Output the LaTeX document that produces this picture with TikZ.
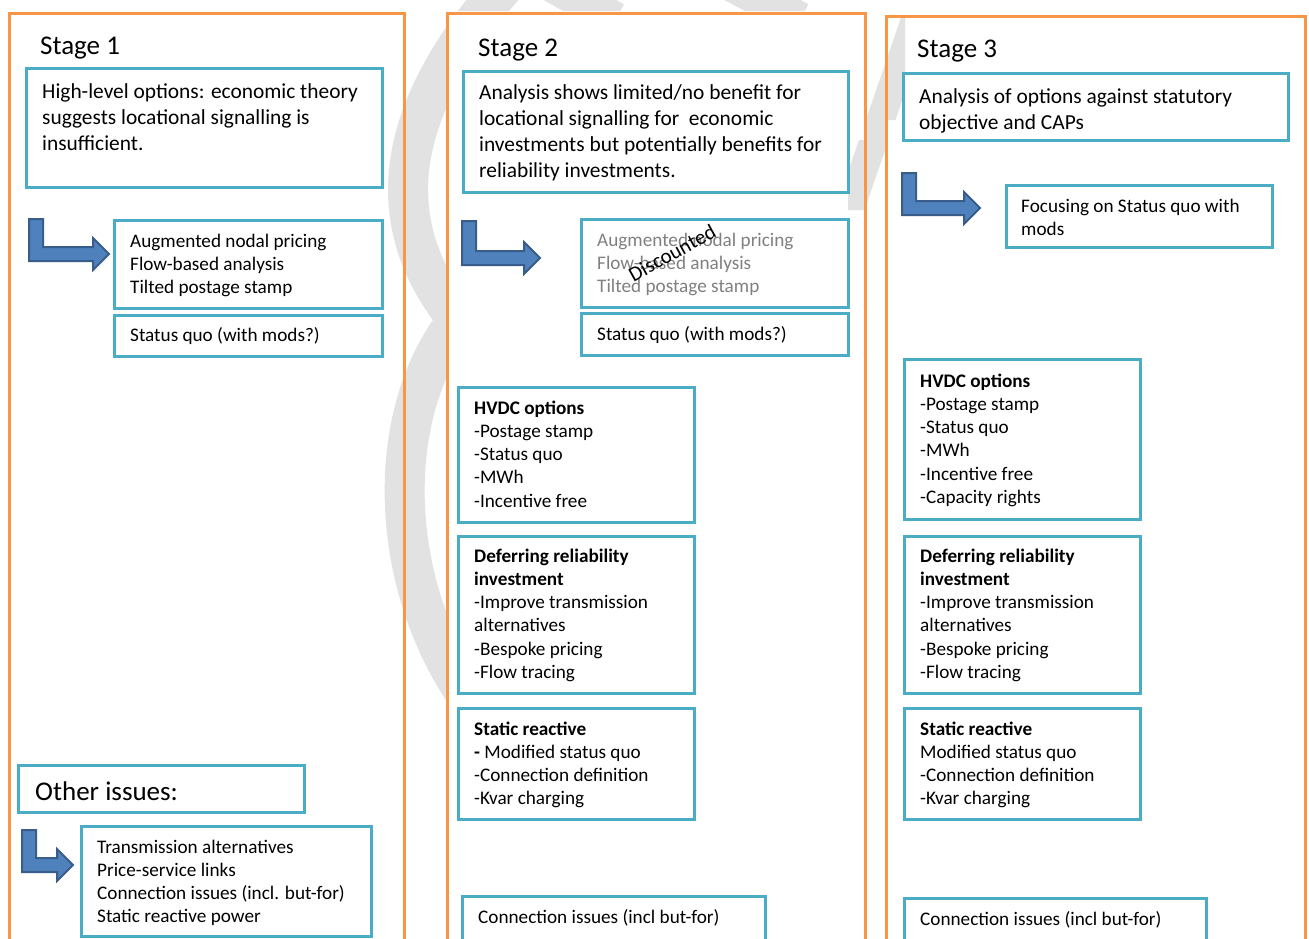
\documentclass[tikz,border=0pt]{standalone}
\usepackage{fontspec}
\setmainfont{Carlito}
\definecolor{teal1}{HTML}{4BACC6}
\definecolor{orng}{HTML}{F79646}
\definecolor{arrfill}{HTML}{4F81BD}
\definecolor{arrline}{HTML}{385D8A}
\definecolor{wm}{HTML}{E2E2E2}
\definecolor{greytxt}{HTML}{808080}
\tikzset{
 colbox/.style={draw=orng, line width=3pt, inner sep=0pt, anchor=north west},
 tbox/.style={draw=teal1, fill=white, line width=3pt, inner sep=0pt, anchor=north west},
 bigtxt/.style={anchor=base west, inner sep=0pt, align=left, font=\fontsize{21.4}{26}\selectfont},
 txt/.style={anchor=base west, inner sep=0pt, align=left, font=\fontsize{19.2}{23.3}\selectfont},
 ttl/.style={anchor=base west, inner sep=0pt, font=\fontsize{27}{32}\selectfont},
 barrow/.style={fill=arrfill, draw=arrline, line width=2pt, line join=miter},
 wmline/.style={draw=wm, line width=36pt},
}
\newcommand{\boxat}[5]{\node[tbox, minimum width={#4-#2}, minimum height={#5-#3}] (#1) at (#2,#3) {};}
\newcommand{\colat}[5]{\node[colbox, minimum width={#4-#2}, minimum height={#5-#3}] (#1) at (#2,#3) {};}
\newcommand{\bendarrow}[5]{%
 \draw[barrow] (#2,#3) -- ({#2+14},#3) -- ({#2+14},{#5-14}) -- ({#4-16},{#5-14}) -- ({#4-16},{#5-23}) -- (#4,{#5-7}) -- ({#4-16},{#5+9}) -- ({#4-16},#5) -- (#2,#5) -- cycle;
 \coordinate (#1) at (#4,{#5-7});}
\begin{document}
\begin{tikzpicture}[x=1pt,y=-1pt]
\useasboundingbox[fill=white] (0,0) rectangle (1309,938);
% watermark
\begin{scope}
 \clip (0,0) rectangle (446,938) (446,0) rectangle (1309,11) (864,0) rectangle (886,938) (848,140) rectangle (864,210) (886,15) rectangle (905,120);
 \draw[wmline, line width=40pt] (505,-15) .. controls (385,120) and (385,230) .. (458,320) .. controls (385,410) and (385,580) .. (470,700);
 \draw[wmline] (545,-20) -- (615,20);
 \draw[wmline] (725,-20) -- (800,20);
 \draw[wmline, line width=28pt] (915,20) -- (848,215);
\end{scope}
% columns
\colat{col1}{8}{12}{403}{960}
\colat{col2}{446}{12}{864}{960}
\colat{col3}{885}{15}{1304}{960}
% stage 1
\node[ttl] (s1) at (40,54) {Stage 1};
\boxat{a1}{25}{67}{381}{186}
\node[bigtxt] (a1t) at (42,150) {High-level options: economic theory\\suggests locational signalling is\\insufficient.};
\bendarrow{ar1}{29}{219}{109}{261}
\boxat{b1}{113}{219}{381}{307}
\node[txt] (b1t) at (130,293.6) {Augmented nodal pricing\\Flow-based analysis\\Tilted postage stamp};
\boxat{c1}{113}{314}{381}{355}
\node[txt] (c1t) at (130,341) {Status quo (with mods?)};
\boxat{o1}{17}{764}{303}{811}
\node[ttl] (o1t) at (35,800) {Other issues:};
\bendarrow{ar4}{22}{830}{73}{872}
\boxat{o2}{80}{825}{370}{935}
\node[txt] (o2t) at (97,922.9) {Transmission alternatives\\Price-service links\\Connection issues (incl. but-for)\\Static reactive power};
% stage 2
\node[ttl] (s2) at (478,56) {Stage 2};
\boxat{a2}{462}{70}{847}{191}
\node[bigtxt] (a2t) at (479,177) {Analysis shows limited/no benefit for\\locational signalling for\ \ economic\\investments but potentially benefits for\\reliability investments.};
\bendarrow{ar2}{462}{221}{540}{265}
\boxat{b2}{580}{218}{847}{306}
\node[txt, text=greytxt] (b2t) at (597,292.6) {Augmented nodal pricing\\Flow-based analysis\\Tilted postage stamp};
\node[rotate=29, inner sep=0pt, font=\fontsize{21}{24}\selectfont] (disc) at (672,253) {Discounted};
\boxat{c2}{580}{312}{847}{354}
\node[txt] (c2t) at (597,340) {Status quo (with mods?)};
\boxat{h2}{457}{386}{693}{521}
\node[txt] (h2t) at (474,507.2) {\textbf{HVDC options}\\-Postage stamp\\-Status quo\\-MWh\\-Incentive free};
\boxat{d2}{457}{535}{693}{692}
\node[txt] (d2t) at (474,678.5) {\textbf{Deferring reliability}\\\textbf{investment}\\-Improve transmission\\alternatives\\-Bespoke pricing\\-Flow tracing};
\boxat{r2}{457}{707}{693}{818}
\node[txt] (r2t) at (474,804.9) {\textbf{Static reactive}\\\textbf{-} Modified status quo\\-Connection definition\\-Kvar charging};
\boxat{n2}{461}{895}{764}{945}
\node[txt] (n2t) at (478,923) {Connection issues (incl but-for)};
% stage 3
\node[ttl] (s3) at (917,57) {Stage 3};
\boxat{a3}{902}{72}{1287}{139}
\node[bigtxt] (a3t) at (919,129) {Analysis of options against statutory\\objective and CAPs};
\bendarrow{ar3}{902}{173}{980}{215}
\boxat{f3}{1005}{184}{1271}{246}
\node[txt] (f3t) at (1021,235.3) {Focusing on Status quo with\\mods};
\boxat{h3}{903}{358}{1139}{518}
\node[txt] (h3t) at (920,503.5) {\textbf{HVDC options}\\-Postage stamp\\-Status quo\\-MWh\\-Incentive free\\-Capacity rights};
\boxat{d3}{903}{535}{1139}{692}
\node[txt] (d3t) at (920,678.5) {\textbf{Deferring reliability}\\\textbf{investment}\\-Improve transmission\\alternatives\\-Bespoke pricing\\-Flow tracing};
\boxat{r3}{903}{707}{1139}{818}
\node[txt] (r3t) at (920,804.9) {\textbf{Static reactive}\\Modified status quo\\-Connection definition\\-Kvar charging};
\boxat{n3}{903}{897}{1205}{945}
\node[txt] (n3t) at (920,925) {Connection issues (incl but-for)};
\end{tikzpicture}
\end{document}
